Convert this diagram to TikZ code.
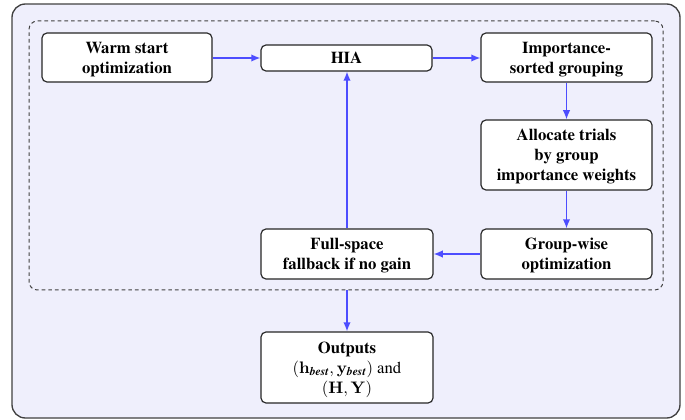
\documentclass[tikz,border=0pt]{standalone}
\usepackage{amsmath}
\usepackage[T1]{fontenc}
\usepackage{times}
\usetikzlibrary{arrows.meta,calc}
\definecolor{bgfill}{RGB}{239,239,252}
\definecolor{arrblue}{RGB}{77,77,255}
\tikzset{
  stepbox/.style={draw=black!85, line width=0.7pt, fill=white, rounded corners=3pt,
    align=center, inner sep=0pt, font=\bfseries, text depth=0pt},
  arr/.style={draw=arrblue, line width=0.9pt, -{Latex[length=5.5pt,width=4.5pt]}},
}
\begin{document}
\begin{tikzpicture}[x=0.6pt,y=-0.6pt]
\useasboundingbox (0,0) rectangle (685,420);
\node[draw=black!75, line width=0.8pt, fill=bgfill, rounded corners=8pt,
  minimum width=400.8pt, minimum height=248.4pt, inner sep=0pt] (frame) at (346,211) {};
\node[draw=black!75, dash pattern=on 2.2pt off 1.8pt, line width=0.6pt, rounded corners=5pt,
  minimum width=380.4pt, minimum height=161.4pt, inner sep=0pt] (loop) at (346,155.5) {};
\node[stepbox, minimum width=102pt, minimum height=29.4pt] (warm) at (127,57.5) {Warm start\\optimization};
\node[stepbox, minimum width=102.6pt, minimum height=15.6pt] (hia) at (346.5,58) {HIA};
\node[stepbox, minimum width=102.6pt, minimum height=29.4pt] (imp) at (566.5,57.5) {Importance-\\sorted grouping};
\node[stepbox, minimum width=102.6pt, minimum height=42pt] (alloc) at (566.5,155) {Allocate trials\\by group\\importance weights};
\node[stepbox, minimum width=102.6pt, minimum height=30pt] (group) at (566.5,254) {Group-wise\\optimization};
\node[stepbox, minimum width=103.2pt, minimum height=30pt] (full) at (347,254) {Full-space\\fallback if no gain};
\node[stepbox, minimum width=103.2pt, minimum height=42.6pt] (out) at (347,367.5)
  {Outputs\\\mdseries $(\mathbf{h}_{\text{\bfseries\itshape best}},\mathbf{y}_{\text{\bfseries\itshape best}})$ and\\\mdseries $(\mathbf{H},\mathbf{Y})$};
\draw[arr] (warm.east |- hia.west) -- (hia.west);
\draw[arr] (hia.east) -- (hia.east -| imp.west);
\draw[arr] (imp.south) -- (alloc.north);
\draw[arr] (alloc.south) -- (group.north);
\draw[arr] (group.west) -- (full.east);
\draw[arr] (full.north) -- (hia.south -| full.north);
\draw[arr] (loop.south -| out.north) -- (out.north);
\end{tikzpicture}
\end{document}
